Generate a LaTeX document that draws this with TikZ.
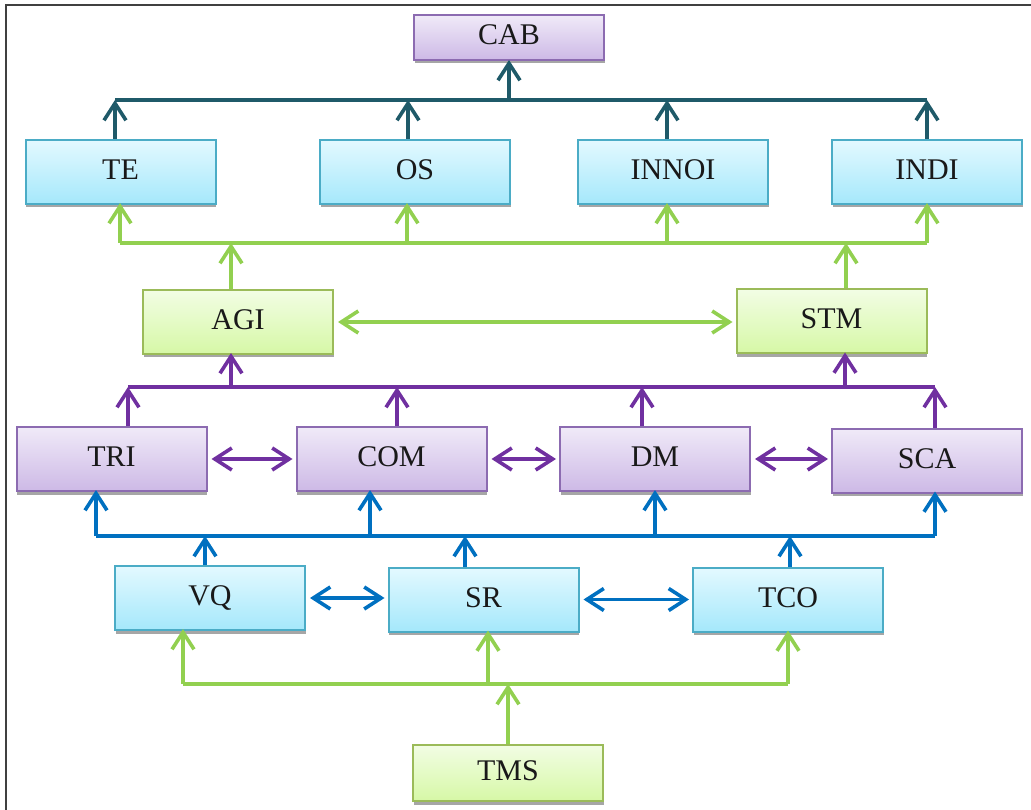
\documentclass[tikz,border=0pt]{standalone}
\usepackage{fontspec}
\setmainfont{Liberation Serif}
\usetikzlibrary{arrows.meta,shadows}
\definecolor{btop}{HTML}{E3F9FF}
\definecolor{bbot}{HTML}{A5E8FB}
\definecolor{bbord}{HTML}{4BACC6}
\definecolor{ptop}{HTML}{F0EAF8}
\definecolor{pbot}{HTML}{CDB9E6}
\definecolor{pbord}{HTML}{8C6BB1}
\definecolor{gtop}{HTML}{F2FDE4}
\definecolor{gbot}{HTML}{D6F8A6}
\definecolor{gbord}{HTML}{9BBB59}
\definecolor{shadowgray}{HTML}{A6A6A6}
\definecolor{tealc}{HTML}{1F5A69}
\definecolor{greenc}{HTML}{92D050}
\definecolor{purplec}{HTML}{7030A0}
\definecolor{bluec}{HTML}{0070C0}
\definecolor{framec}{HTML}{404040}
\begin{document}
\begin{tikzpicture}[x=1pt,y=-1pt,
  box/.style={draw, line width=2pt, minimum width=190pt, minimum height=64pt, inner sep=0pt,
    font=\fontsize{30}{36}\selectfont, text=black!90, text height=21pt, text depth=6pt,
    drop shadow={shadow xshift=0.5pt, shadow yshift=-3.5pt, fill=shadowgray, opacity=1}},
  bluebox/.style={box, draw=bbord, top color=btop, bottom color=bbot},
  purplebox/.style={box, draw=pbord, top color=ptop, bottom color=pbot},
  greenbox/.style={box, draw=gbord, top color=gtop, bottom color=gbot},
  bar/.style={line width=3.6pt},
  tip/.style={Straight Barb[length=17pt,width=22pt]},
  conn/.style={line width=3.6pt, -{Straight Barb[length=17pt,width=22pt]}},
  dconn/.style={line width=3.6pt, {Straight Barb[length=17pt,width=22pt]}-{Straight Barb[length=17pt,width=22pt]}, shorten <=4pt, shorten >=3pt},
]
\useasboundingbox (0,0) rectangle (1031,810);
\draw[framec, line width=2pt] (5.5,810) -- (5.5,5) -- (1031,5);

% nodes
\node[purplebox, minimum height=45pt] (CAB) at (509,37.5) {CAB};
\node[bluebox] (TE) at (120.5,172) {TE};
\node[bluebox] (OS) at (415,172) {OS};
\node[bluebox] (INNOI) at (673,172) {INNOI};
\node[bluebox] (INDI) at (927,172) {INDI};
\node[greenbox] (AGI) at (238,322) {AGI};
\node[greenbox] (STM) at (831.5,321.5) {STM};
\node[purplebox] (TRI) at (111.5,459) {TRI};
\node[purplebox] (COM) at (391.5,459) {COM};
\node[purplebox] (DM) at (655,459) {DM};
\node[purplebox] (SCA) at (927,460.5) {SCA};
\node[bluebox] (VQ) at (210,598) {VQ};
\node[bluebox] (SR) at (483.5,599.5) {SR};
\node[bluebox] (TCO) at (788,599.5) {TCO};
\node[greenbox, minimum height=56pt] (TMS) at (508,773) {TMS};

% junction coordinates
\coordinate (t1) at (115,100); \coordinate (t2) at (408,100);
\coordinate (t3) at (667,100); \coordinate (t4) at (927,100);
\coordinate (tc) at (509,100);
\coordinate (g1) at (120,243); \coordinate (g2) at (407,243);
\coordinate (g3) at (667,243); \coordinate (g4) at (927,243);
\coordinate (ga) at (231,243); \coordinate (gs) at (846,243);
\coordinate (p1) at (128,387); \coordinate (p2) at (397,387);
\coordinate (p3) at (642,387); \coordinate (p4) at (935,387);
\coordinate (pa) at (231,387); \coordinate (ps) at (845,387);
\coordinate (b1) at (96,536); \coordinate (b2) at (370,536);
\coordinate (b3) at (655,536); \coordinate (b4) at (935,536);
\coordinate (bv) at (205,536); \coordinate (bs) at (465,536);
\coordinate (bt) at (790,536);
\coordinate (l1) at (183,684); \coordinate (l2) at (488,684);
\coordinate (l3) at (788,684); \coordinate (lt) at (508,684);

% teal level
\draw[tealc, bar] (t1) -- (t4);
\draw[tealc, conn, shorten >=-1pt] (tc) -- (CAB.south -| tc);
\foreach \n/\c in {TE/t1, OS/t2, INNOI/t3, INDI/t4}
  \draw[tealc, conn] (\n.north -| \c) -- (\c);

% green upper level
\draw[greenc, bar] (g1) -- (g4);
\foreach \n/\c in {TE/g1, OS/g2, INNOI/g3, INDI/g4}
  \draw[greenc, conn, shorten >=-2pt] (\c) -- (\n.south -| \c);
\foreach \n/\c in {AGI/ga, STM/gs}
  \draw[greenc, conn] (\n.north -| \c) -- (\c);
\draw[greenc, dconn] (AGI.east) -- (AGI.east -| STM.west);

% purple level
\draw[purplec, bar] (p1) -- (p4);
\foreach \n/\c in {AGI/pa, STM/ps}
  \draw[purplec, conn, shorten >=-2pt] (\c) -- (\n.south -| \c);
\foreach \n/\c in {TRI/p1, COM/p2, DM/p3, SCA/p4}
  \draw[purplec, conn] (\n.north -| \c) -- (\c);
\draw[purplec, dconn] (TRI.east) -- (TRI.east -| COM.west);
\draw[purplec, dconn] (COM.east) -- (COM.east -| DM.west);
\draw[purplec, dconn] (DM.east) -- (DM.east -| SCA.west);

% blue level
\draw[bluec, bar] (b1) -- (b4);
\foreach \n/\c in {TRI/b1, COM/b2, DM/b3, SCA/b4}
  \draw[bluec, conn, shorten >=-2pt] (\c) -- (\n.south -| \c);
\foreach \n/\c in {VQ/bv, SR/bs, TCO/bt}
  \draw[bluec, conn] (\n.north -| \c) -- (\c);
\draw[bluec, dconn] (VQ.east) -- (VQ.east -| SR.west);
\draw[bluec, dconn] (SR.east) -- (SR.east -| TCO.west);

% green lower level
\draw[greenc, bar] (l1) -- (l3);
\foreach \n/\c in {VQ/l1, SR/l2, TCO/l3}
  \draw[greenc, conn, shorten >=-2pt] (\c) -- (\n.south -| \c);
\draw[greenc, conn] (TMS.north -| lt) -- (lt);
\end{tikzpicture}
\end{document}
